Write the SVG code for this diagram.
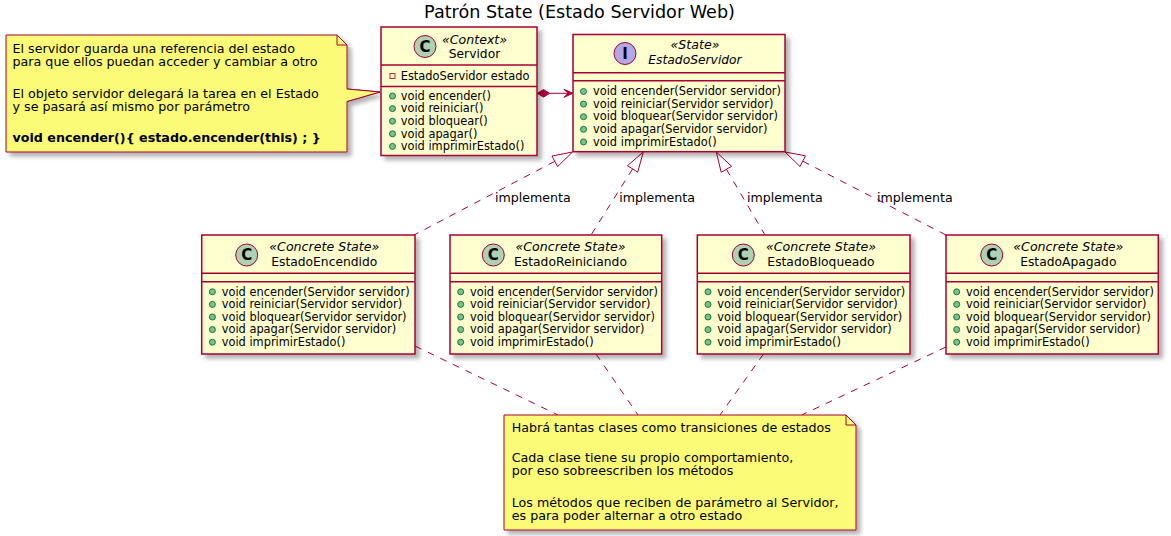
<svg xmlns="http://www.w3.org/2000/svg" width="1171" height="536" viewBox="0 0 1171 536">
<defs>
<filter id="sh" x="-10%" y="-10%" width="130%" height="130%">
<feDropShadow dx="4" dy="4" stdDeviation="2" flood-color="#000" flood-opacity="0.3"/>
</filter>
</defs>
<style>
text{font-family:"DejaVu Sans","Liberation Sans",sans-serif;fill:#000}
.box{fill:#FEFECE;stroke:#A80036;stroke-width:1.5}
.sep{stroke:#A80036;stroke-width:1.5}
.note{fill:#FBFB77;stroke:#A80036;stroke-width:1}
.fold{fill:none;stroke:#A80036;stroke-width:1}
.cc{fill:#ADD1B2;stroke:#A80036;stroke-width:1}
.ci{fill:#B4A7E5;stroke:#A80036;stroke-width:1}
.cl{font-size:15px;font-weight:bold;text-anchor:middle}
.st{font-size:12.6px;font-style:italic;text-anchor:middle}
.nm{font-size:12.3px;text-anchor:middle}
.nmi{font-size:12.3px;font-style:italic;text-anchor:middle}
.mb{font-size:11.4px}
.pub{fill:#84BE84;stroke:#038048;stroke-width:1}
.priv{fill:none;stroke:#C82930;stroke-width:1}
.nt{font-size:12.7px}
.ntb{font-size:12.7px;font-weight:bold}
.lbl{font-size:12.6px}
.dash{fill:none;stroke:#A80036;stroke-width:1;stroke-dasharray:7,7}
.line{fill:none;stroke:#A80036;stroke-width:1}
.tri{fill:none;stroke:#A80036;stroke-width:1}
.head{fill:#A80036;stroke:#A80036;stroke-width:1}
</style>
<rect width="1171" height="536" fill="#FFFFFF"/>
<text x="579.5" y="18" style="font-size:17.6px;text-anchor:middle">Patrón State (Estado Servidor Web)</text>

<g id="connectors">
<path class="line" d="M549.7,93.3 L568,93.3"/>
<polygon class="head" points="537.3,93.3 543.5,89.5 549.7,93.3 543.5,97.1"/>
<polygon class="head" points="573,93.3 564,89.3 568,93.3 564,97.3"/>
<path class="dash" d="M554.8,161.3 L414,235"/>
<polygon class="tri" points="572.5,152 557.6,166.6 552.0,156.0"/>
<text class="lbl" x="495" y="202">implementa</text>
<path class="dash" d="M632.6,168.9 L591,235"/>
<polygon class="tri" points="643.3,152 637.7,172.1 627.5,165.7"/>
<text class="lbl" x="619.3" y="202">implementa</text>
<path class="dash" d="M726.4,169.3 L765,235"/>
<polygon class="tri" points="716.3,152 731.6,166.3 721.2,172.3"/>
<text class="lbl" x="747" y="202">implementa</text>
<path class="dash" d="M802.8,161.2 L946,235"/>
<polygon class="tri" points="785,152 805.5,155.8 800.0,166.5"/>
<text class="lbl" x="877" y="202">implementa</text>
<path class="dash" d="M415,346 L558,415"/>
<path class="dash" d="M596,354 L638,415"/>
<path class="dash" d="M763.5,354 L720,415"/>
<path class="dash" d="M946,347 L801.7,415"/>
<path class="line" d="M347,89 L380,92 L347,101.5"/>
</g>

<g id="note1">
<polygon class="note" filter="url(#sh)" points="6,35 337,35 347,45 347,89 380,92 347,101.5 347,152 6,152"/>
<polyline class="fold" points="337,35 337,45 347,45"/>
<text class="nt" x="12.5" y="52.5">El servidor guarda una referencia del estado</text>
<text class="nt" x="12.5" y="66">para que ellos puedan acceder y cambiar a otro</text>
<text class="nt" x="12.5" y="97.7">El objeto servidor delegará la tarea en el Estado</text>
<text class="nt" x="12.5" y="111">y se pasará así mismo por parámetro</text>
<text class="ntb" x="12.5" y="142.3">void encender(){ estado.encender(this) ; }</text>
</g>

<g id="Servidor">
<rect class="box" filter="url(#sh)" x="381" y="27" width="156" height="128.5"/>
<circle class="cc" cx="425" cy="46.5" r="11"/>
<text class="cl" x="425" y="51.8">C</text>
<text class="st" x="474.5" y="43.5">«Context»</text>
<text class="nm" x="474.5" y="57.5">Servidor</text>
<line class="sep" x1="381" y1="65" x2="537" y2="65"/>
<rect class="priv" x="390" y="73.5" width="5" height="5"/>
<text class="mb" x="400.7" y="80">EstadoServidor estado</text>
<line class="sep" x1="381" y1="86.5" x2="537" y2="86.5"/>
<circle class="pub" cx="392.5" cy="96" r="3"/>
<text class="mb" x="400.7" y="99.7">void encender()</text>
<circle class="pub" cx="392.5" cy="108.6" r="3"/>
<text class="mb" x="400.7" y="112.3">void reiniciar()</text>
<circle class="pub" cx="392.5" cy="121.2" r="3"/>
<text class="mb" x="400.7" y="124.9">void bloquear()</text>
<circle class="pub" cx="392.5" cy="133.8" r="3"/>
<text class="mb" x="400.7" y="137.5">void apagar()</text>
<circle class="pub" cx="392.5" cy="146.4" r="3"/>
<text class="mb" x="400.7" y="150.1">void imprimirEstado()</text>
</g>

<g id="EstadoServidor">
<rect class="box" filter="url(#sh)" x="573" y="34.5" width="212" height="117.2"/>
<circle class="ci" cx="625" cy="53.5" r="11"/>
<text class="cl" x="625" y="58.8">I</text>
<text class="st" x="695" y="49">«State»</text>
<text class="nmi" x="695" y="64.3">EstadoServidor</text>
<line class="sep" x1="573" y1="72.7" x2="785" y2="72.7"/>
<line class="sep" x1="573" y1="80.7" x2="785" y2="80.7"/>
<circle class="pub" cx="583.5" cy="91.5" r="3"/>
<text class="mb" x="593" y="95.2">void encender(Servidor servidor)</text>
<circle class="pub" cx="583.5" cy="104.1" r="3"/>
<text class="mb" x="593" y="107.8">void reiniciar(Servidor servidor)</text>
<circle class="pub" cx="583.5" cy="116.7" r="3"/>
<text class="mb" x="593" y="120.4">void bloquear(Servidor servidor)</text>
<circle class="pub" cx="583.5" cy="129.3" r="3"/>
<text class="mb" x="593" y="133">void apagar(Servidor servidor)</text>
<circle class="pub" cx="583.5" cy="141.9" r="3"/>
<text class="mb" x="593" y="145.6">void imprimirEstado()</text>
</g>

<g id="EstadoEncendido">
<rect class="box" filter="url(#sh)" x="201.7" y="235" width="213.3" height="119"/>
<circle class="cc" cx="246.7" cy="255" r="11"/>
<text class="cl" x="246.7" y="260.3">C</text>
<text class="st" x="324.3" y="251">«Concrete State»</text>
<text class="nm" x="324.3" y="266">EstadoEncendido</text>
<line class="sep" x1="201.7" y1="273.3" x2="415" y2="273.3"/>
<line class="sep" x1="201.7" y1="281.7" x2="415" y2="281.7"/>
<circle class="pub" cx="212.4" cy="291.8" r="3"/>
<text class="mb" x="221.7" y="295.5">void encender(Servidor servidor)</text>
<circle class="pub" cx="212.4" cy="304.4" r="3"/>
<text class="mb" x="221.7" y="308.1">void reiniciar(Servidor servidor)</text>
<circle class="pub" cx="212.4" cy="317" r="3"/>
<text class="mb" x="221.7" y="320.7">void bloquear(Servidor servidor)</text>
<circle class="pub" cx="212.4" cy="329.6" r="3"/>
<text class="mb" x="221.7" y="333.3">void apagar(Servidor servidor)</text>
<circle class="pub" cx="212.4" cy="342.2" r="3"/>
<text class="mb" x="221.7" y="345.9">void imprimirEstado()</text>
</g>

<g id="EstadoReiniciando">
<rect class="box" filter="url(#sh)" x="450" y="235" width="211.7" height="119"/>
<circle class="cc" cx="493.3" cy="255" r="11"/>
<text class="cl" x="493.3" y="260.3">C</text>
<text class="st" x="570.5" y="251">«Concrete State»</text>
<text class="nm" x="570.5" y="266">EstadoReiniciando</text>
<line class="sep" x1="450" y1="273.3" x2="661.7" y2="273.3"/>
<line class="sep" x1="450" y1="281.7" x2="661.7" y2="281.7"/>
<circle class="pub" cx="460.7" cy="291.8" r="3"/>
<text class="mb" x="470" y="295.5">void encender(Servidor servidor)</text>
<circle class="pub" cx="460.7" cy="304.4" r="3"/>
<text class="mb" x="470" y="308.1">void reiniciar(Servidor servidor)</text>
<circle class="pub" cx="460.7" cy="317" r="3"/>
<text class="mb" x="470" y="320.7">void bloquear(Servidor servidor)</text>
<circle class="pub" cx="460.7" cy="329.6" r="3"/>
<text class="mb" x="470" y="333.3">void apagar(Servidor servidor)</text>
<circle class="pub" cx="460.7" cy="342.2" r="3"/>
<text class="mb" x="470" y="345.9">void imprimirEstado()</text>
</g>

<g id="EstadoBloqueado">
<rect class="box" filter="url(#sh)" x="697.3" y="235" width="212.7" height="119"/>
<circle class="cc" cx="743.3" cy="255" r="11"/>
<text class="cl" x="743.3" y="260.3">C</text>
<text class="st" x="821" y="251">«Concrete State»</text>
<text class="nm" x="821" y="266">EstadoBloqueado</text>
<line class="sep" x1="697.3" y1="273.3" x2="910" y2="273.3"/>
<line class="sep" x1="697.3" y1="281.7" x2="910" y2="281.7"/>
<circle class="pub" cx="708" cy="291.8" r="3"/>
<text class="mb" x="717.3" y="295.5">void encender(Servidor servidor)</text>
<circle class="pub" cx="708" cy="304.4" r="3"/>
<text class="mb" x="717.3" y="308.1">void reiniciar(Servidor servidor)</text>
<circle class="pub" cx="708" cy="317" r="3"/>
<text class="mb" x="717.3" y="320.7">void bloquear(Servidor servidor)</text>
<circle class="pub" cx="708" cy="329.6" r="3"/>
<text class="mb" x="717.3" y="333.3">void apagar(Servidor servidor)</text>
<circle class="pub" cx="708" cy="342.2" r="3"/>
<text class="mb" x="717.3" y="345.9">void imprimirEstado()</text>
</g>

<g id="EstadoApagado">
<rect class="box" filter="url(#sh)" x="946" y="235" width="212.3" height="119"/>
<circle class="cc" cx="991.7" cy="255" r="11"/>
<text class="cl" x="991.7" y="260.3">C</text>
<text class="st" x="1068.3" y="251">«Concrete State»</text>
<text class="nm" x="1068.3" y="266">EstadoApagado</text>
<line class="sep" x1="946" y1="273.3" x2="1158.3" y2="273.3"/>
<line class="sep" x1="946" y1="281.7" x2="1158.3" y2="281.7"/>
<circle class="pub" cx="956.7" cy="291.8" r="3"/>
<text class="mb" x="966" y="295.5">void encender(Servidor servidor)</text>
<circle class="pub" cx="956.7" cy="304.4" r="3"/>
<text class="mb" x="966" y="308.1">void reiniciar(Servidor servidor)</text>
<circle class="pub" cx="956.7" cy="317" r="3"/>
<text class="mb" x="966" y="320.7">void bloquear(Servidor servidor)</text>
<circle class="pub" cx="956.7" cy="329.6" r="3"/>
<text class="mb" x="966" y="333.3">void apagar(Servidor servidor)</text>
<circle class="pub" cx="956.7" cy="342.2" r="3"/>
<text class="mb" x="966" y="345.9">void imprimirEstado()</text>
</g>

<g id="note2">
<polygon class="note" filter="url(#sh)" points="504,415 846,415 856,425 856,530 504,530"/>
<polyline class="fold" points="846,415 846,425 856,425"/>
<text class="nt" x="511.7" y="431.7">Habrá tantas clases como transiciones de estados</text>
<text class="nt" x="511.7" y="461.7">Cada clase tiene su propio comportamiento,</text>
<text class="nt" x="511.7" y="475">por eso sobreescriben los métodos</text>
<text class="nt" x="511.7" y="506.7">Los métodos que reciben de parámetro al Servidor,</text>
<text class="nt" x="511.7" y="520">es para poder alternar a otro estado</text>
</g>
</svg>
